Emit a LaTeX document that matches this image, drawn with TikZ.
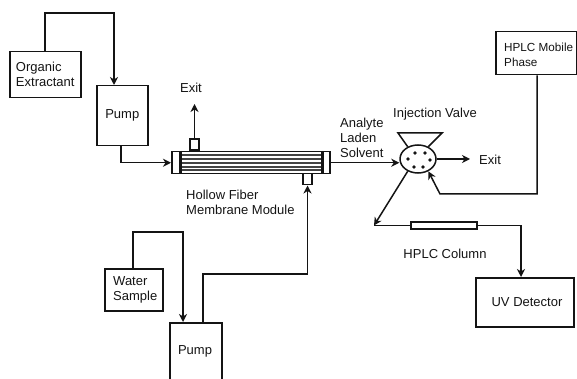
\documentclass[tikz,border=0pt]{standalone}
\usepackage{fontspec}
\setmainfont{Liberation Sans}
\usepackage{tikz}
\usetikzlibrary{positioning, arrows.meta, calc, shapes.geometric}
\definecolor{ink}{HTML}{141414}
\tikzset{
  unitbox/.style={draw=ink, fill=white, line width=1.5pt, inner sep=0pt,
                  align=left, text=ink, font=\fontsize{13}{15}\selectfont},
  lbl/.style={align=left, inner sep=0pt, text=ink, font=\fontsize{13}{15}\selectfont},
  arr/.style={-{Stealth[length=8pt,width=8pt,inset=2.5pt]}, draw=ink, line width=1.5pt},
  pipe/.style={draw=ink, line width=1.5pt},
  fiber/.style={draw=ink!80, line width=1.3pt},
  dot/.style={circle, fill=ink, inner sep=0pt, minimum size=3.6pt},
}
\begin{document}
\begin{tikzpicture}[x=1pt, y=-1pt]
  \useasboundingbox (0,0) rectangle (577,379);
  \clip (0,0) rectangle (577,379);
  % feed side
  \node[unitbox, minimum width=71pt, minimum height=46pt, anchor=north west] (organic) at (9,51)
    {Organic\\Extractant};
  \node[unitbox, minimum width=51pt, minimum height=60pt, anchor=north west] (pumpa) at (96,85) {Pump};
  \node[unitbox, minimum width=58pt, minimum height=42pt, anchor=north west] (water) at (104,268)
    {\hspace{3pt}Water\\\hspace{3pt}Sample};
  \node[unitbox, minimum width=52pt, minimum height=70pt, anchor=north west] (pumpb) at (169,322) {};
  \node[lbl, anchor=center] (pumpblbl) at (195,351) {Pump};
  % membrane module
  \node[unitbox, minimum width=158pt, minimum height=22pt, anchor=north west] (module) at (171,151) {};
  \foreach \fy in {155,159,163,167,170}
    \draw[fiber] (178,\fy) -- (322,\fy);
  \node[unitbox, minimum width=8pt, minimum height=22pt, anchor=north west] (capl) at (171,151) {};
  \node[unitbox, minimum width=7pt, minimum height=22pt, anchor=north west] (capr) at (322,151) {};
  \draw[ink, line width=2.5pt] (capl.north east) -- (capl.south east);
  \draw[ink, line width=2.5pt] (capr.north west) -- (capr.south west);
  \node[unitbox, minimum width=9pt, minimum height=11pt, anchor=south] (stubt) at (194.5,151) {};
  \node[unitbox, minimum width=9pt, minimum height=11pt, anchor=north] (stubb) at (307.5,173) {};
  \node[lbl, anchor=north west] (modlbl) at (186,190) {Hollow Fiber\\Membrane Module};
  \node[lbl, anchor=center] (exita) at (191,88) {Exit};
  \coordinate (exitatip) at (194.5,104);
  % injection valve
  \node[draw=ink, fill=white, line width=1.5pt, ellipse, minimum width=36pt, minimum height=28pt,
        inner sep=0pt] (valve) at (418,159) {};
  \foreach \dx/\dy in {415/153,425/153,408/159,430/160,414/167,423/167}
    \node[dot] at (\dx,\dy) {};
  \coordinate (funnell) at (398,133);
  \coordinate (funnelr) at (442,133);
  \draw[pipe] (valve.130) -- (funnell) -- (funnelr) -- (valve.50);
  \node[lbl, anchor=center] (valvelbl) at (435,114) {Injection Valve};
  \node[lbl, anchor=north west] (analyte) at (340,118) {Analyte\\Laden\\Solvent};
  \node[lbl, anchor=west] (exitb) at (479,159.5) {Exit};
  \coordinate (exitbtip) at (470,159);
  % column and detector
  \node[unitbox, minimum width=66pt, minimum height=7pt, anchor=center] (column) at (444,225.5) {};
  \coordinate (split) at (374,225.5);
  \node[lbl, anchor=center] (collbl) at (445,254) {HPLC Column};
  \node[unitbox, minimum width=98pt, minimum height=49pt, anchor=north west] (uv) at (475,277) {};
  \node[lbl, anchor=center] (uvlbl) at (527,302) {UV Detector};
  \node[unitbox, minimum width=81pt, minimum height=43pt, anchor=north west] (mobile) at (495,31) {};
  \node[lbl, anchor=west, font=\fontsize{11.7}{15}\selectfont] (mobilelbl) at (504,54.5) {HPLC Mobile\\Phase};
  % connectors
  \draw[arr] (organic.north -| 45,0) |- (114,13) -- (pumpa.north -| 114,0);
  \draw[arr] (pumpa.south -| 121,0) |- (capl.west);
  \draw[arr] (stubt.north) -- (exitatip);
  \draw[arr] (water.north -| 133,0) |- (183,232) -- (pumpb.north -| 183,0);
  \draw[arr] (pumpb.north -| 203,0) |- (307.5,274) -- (stubb.south);
  \draw[arr] (capr.east) -- (capr.east -| valve.west);
  \draw[arr] (valve.east) -- (exitbtip);
  \draw[arr] (mobile.south -| 537,0) |- (440,194) -- (valve.-50);
  \draw[arr] (valve.-130) -- (split);
  \draw[pipe] (split) -- (column.west);
  \draw[arr] (column.east) -| (uv.north -| 521,0);
\end{tikzpicture}
\end{document}
